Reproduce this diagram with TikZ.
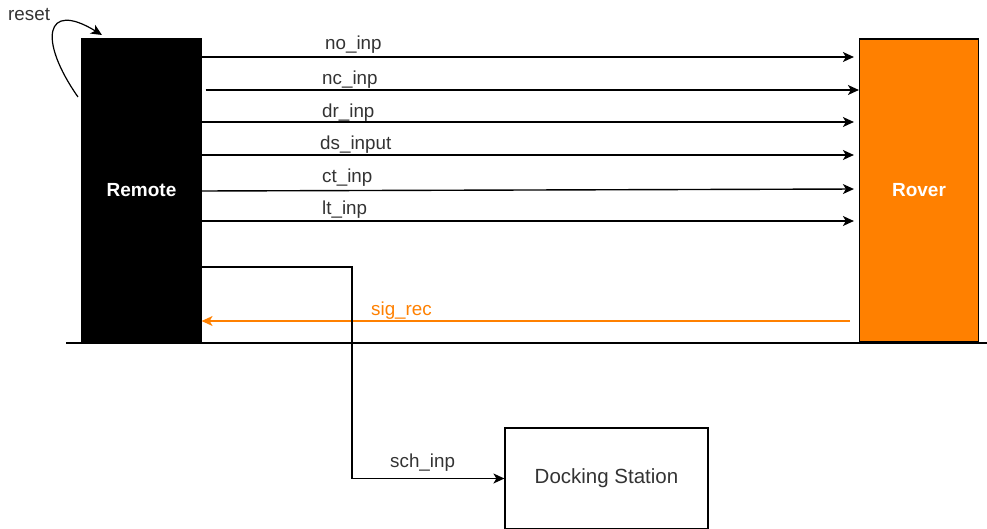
\documentclass[tikz,border=0pt]{standalone}
\usepackage{fontspec}
\setmainfont{Liberation Sans}
\usetikzlibrary{arrows.meta,calc}
\definecolor{orng}{HTML}{FF8000}
\definecolor{txt}{HTML}{333333}
\begin{document}
\begin{tikzpicture}[x=1pt,y=-1pt,
  blk/.style={draw=black,line width=1.2pt,minimum width=119pt,minimum height=303pt,inner sep=0pt,font=\fontsize{19}{21}\selectfont\bfseries,text=white},
  arr/.style={line width=1.4pt,-{Stealth[length=11pt,width=10pt,inset=3pt]}},
  lbl/.style={anchor=west,inner sep=0pt,font=\fontsize{18.8}{20}\selectfont,text=txt}]
\useasboundingbox (0,0) rectangle (987,529);
\node[blk,fill=black] (remote) at (141.5,190.5) {Remote};
\node[blk,fill=orng] (rover) at (919,190.5) {Rover};
\node[draw=black,line width=1.2pt,minimum width=203pt,minimum height=101pt,inner sep=0pt,font=\fontsize{20.5}{22}\selectfont,text=txt] (dock) at (606.5,478.5) {Docking Station};
% baseline
\draw[line width=1.4pt] (66,343) -- (987,343);
% inputs
\draw[arr,shorten >=5pt] (remote.east |- {0,57}) -- (rover.west |- {0,57});
\draw[arr] ($(remote.east |- {0,90})+(4,0)$) -- (rover.west |- {0,90});
\draw[arr,shorten >=5pt] (remote.east |- {0,122}) -- (rover.west |- {0,122});
\draw[arr,shorten >=5pt] (remote.east |- {0,155}) -- (rover.west |- {0,155});
\draw[arr,shorten >=5pt] (remote.east |- {0,191}) -- (rover.west |- {0,189});
\draw[arr,shorten >=5pt] (remote.east |- {0,221}) -- (rover.west |- {0,221});
\node[lbl] (l1) at (325,45) {no\_inp};
\node[lbl] (l2) at (322,80) {nc\_inp};
\node[lbl] (l3) at (322,113) {dr\_inp};
\node[lbl] (l4) at (320,145) {ds\_input};
\node[lbl] (l5) at (322,178) {ct\_inp};
\node[lbl] (l6) at (322,210) {lt\_inp};
% sig_rec
\draw[arr,draw=orng,line width=1.2pt,shorten <=9pt] (rover.west |- {0,321}) -- (remote.east |- {0,321});
\node[lbl,text=orng] (l7) at (371,311) {sig\_rec};
% to dock
\draw[arr] (remote.east |- {0,267}) -- (352,267) |- (dock.west);
\node[lbl] (l8) at (390,463) {sch\_inp};
% reset
\node[lbl] (rst) at (8,15) {reset};
\draw[arr,line width=1.2pt] (78,97) .. controls (38,40) and (45,0) .. (102,35);
\end{tikzpicture}
\end{document}
